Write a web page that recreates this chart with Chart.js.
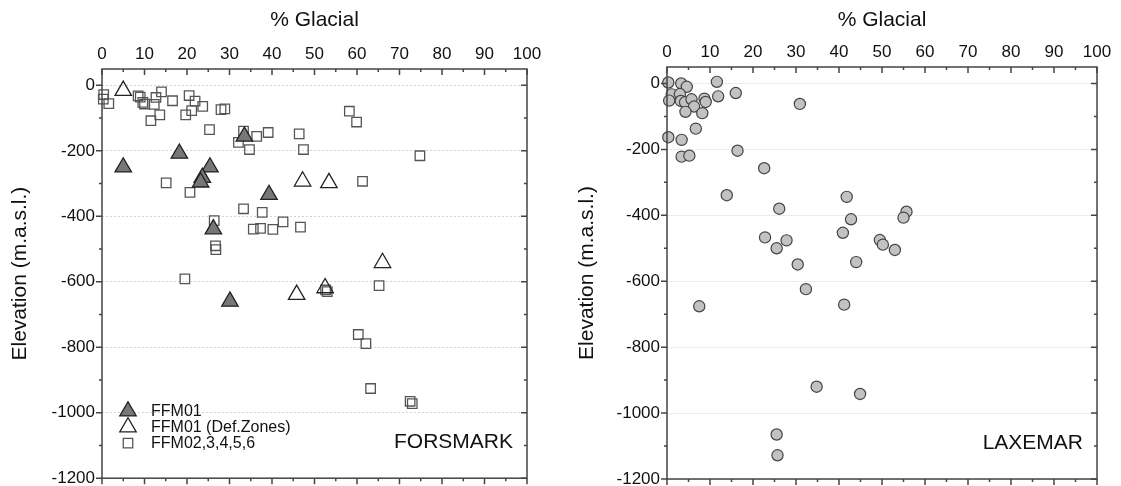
<!DOCTYPE html>
<html>
<head>
<meta charset="utf-8">
<script src="https://cdn.jsdelivr.net/npm/chart.js@4/dist/chart.umd.min.js"></script>
<style>
body { margin: 0; background: #fff; width: 1121px; height: 486px; overflow: hidden; position: relative; }
.box { position: absolute; top: 0; }
#left { left: 0; width: 560px; height: 489px; }
#right { left: 560px; width: 561px; height: 486px; }
</style>
</head>
<body>
<div class="box" id="left"><canvas id="forsmark"></canvas></div>
<div class="box" id="right"><canvas id="laxemar"></canvas></div>
<script>
// Forsmark - FFM01
var ffm01Glacial = [5.0, 18.2, 25.4, 23.6, 23.2, 33.5, 39.3, 26.2, 30.1];
var ffm01Elev    = [-250, -208, -250, -282, -296, -156, -334, -439, -660];
// Forsmark - FFM01 deformation zones
var defGlacial = [5.0, 47.2, 53.4, 45.8, 52.5, 66.0];
var defElev    = [-16, -293, -298, -639, -619, -542];
// Forsmark - FFM02,3,4,5,6
var ffm02Glacial = [0.4, 0.3, 1.6, 8.5, 9.0, 9.6, 10.0, 12.7, 12.3, 14.0, 13.6, 11.5, 16.6, 20.5, 21.9, 21.1, 19.7,
    23.7, 28.0, 28.9, 25.3, 32.1, 33.3, 36.4, 39.1, 34.7, 15.1, 20.7, 33.3, 37.7, 26.4, 35.6, 37.3, 40.2,
    42.6, 58.2, 59.9, 46.4, 47.4, 74.8, 61.3, 46.7, 26.7, 26.8, 19.5, 52.6, 53.0, 65.2, 60.3, 62.1, 63.2,
    72.5, 73.0];
var ffm02Elev = [-28, -42, -56, -32, -36, -52, -57, -37, -58, -20, -90, -108, -47, -31, -48, -77, -90,
    -64, -74, -72, -135, -174, -140, -156, -144, -196, -298, -327, -377, -388, -413, -439, -437, -440,
    -417, -79, -112, -148, -196, -215, -293, -433, -490, -502, -591, -625, -630, -612, -761, -789, -926,
    -965, -972];
// Laxemar
var laxGlacial = [0.3, 3.3, 4.6, 11.6, 1.1, 3.0, 0.5, 3.2, 4.2, 5.7, 8.7, 9.0, 6.3, 4.3, 8.2, 11.9, 16.0,
    30.9, 6.7, 0.3, 3.4, 3.4, 5.2, 16.4, 22.6, 13.9, 26.1, 41.8, 42.8, 40.9, 22.8, 27.8, 25.5, 49.5, 50.2,
    53.0, 44.0, 30.4, 32.3, 41.2, 7.5, 34.8, 44.9, 25.5, 25.7, 55.7, 55.0];
var laxElev = [3, 0, -10, 5, -33, -32, -52, -53, -57, -48, -46, -56, -70, -86, -90, -39, -29,
    -62, -137, -163, -171, -222, -219, -204, -257, -339, -380, -344, -412, -453, -467, -476, -500, -475, -489,
    -505, -542, -549, -624, -671, -676, -920, -942, -1065, -1128, -389, -407];

var xTicks = [0, 10, 20, 30, 40, 50, 60, 70, 80, 90, 100];
var yTicks = [0, -200, -400, -600, -800, -1000, -1200];

function pts(xs, ys) {
    return xs.map(function (x, i) { return {x: x, y: ys[i]}; });
}

var FONT = '"Liberation Sans", Arial, sans-serif';

function drawMarker(ctx, ds, x, y) {
    ctx.fillStyle = ds.backgroundColor;
    ctx.strokeStyle = ds.borderColor;
    ctx.lineWidth = ds.borderWidth;
    if (Chart.helpers && Chart.helpers.drawPoint) {
        Chart.helpers.drawPoint(ctx, {pointStyle: ds.pointStyle, radius: ds.pointRadius, rotation: 0, borderWidth: ds.borderWidth}, x, y);
    }
}

var frame = {
    id: 'frame',
    afterDraw: function (chart, args, opts) {
        var ctx = chart.ctx, a = chart.chartArea;
        var x = chart.scales.x, y = chart.scales.y;
        ctx.save();
        ctx.strokeStyle = '#444';
        ctx.lineWidth = 1.5;
        ctx.strokeRect(a.left, a.top, a.right - a.left, a.bottom - a.top);
        ctx.beginPath();
        for (var i = 0; i < xTicks.length; i++) {
            var v = xTicks[i];
            var px = x.getPixelForValue(v);
            ctx.moveTo(px, a.top); ctx.lineTo(px, a.top + 6);
            ctx.moveTo(px, a.bottom); ctx.lineTo(px, a.bottom + 6);
            if (i < xTicks.length - 1) {
                var mx = x.getPixelForValue((v + xTicks[i + 1]) / 2);
                ctx.moveTo(mx, a.top); ctx.lineTo(mx, a.top + 3);
                ctx.moveTo(mx, a.bottom); ctx.lineTo(mx, a.bottom + 3);
            }
        }
        for (var j = 0; j < yTicks.length; j++) {
            var w = yTicks[j];
            var py = y.getPixelForValue(w);
            ctx.moveTo(a.left - 6, py); ctx.lineTo(a.left, py);
            ctx.moveTo(a.right - 6, py); ctx.lineTo(a.right, py);
            if (j < yTicks.length - 1) {
                var my = y.getPixelForValue((w + yTicks[j + 1]) / 2);
                ctx.moveTo(a.left - 3, my); ctx.lineTo(a.left, my);
                ctx.moveTo(a.right - 3, my); ctx.lineTo(a.right, my);
            }
        }
        ctx.stroke();

        ctx.fillStyle = '#111';
        ctx.font = '21px ' + FONT;
        ctx.textAlign = 'right';
        ctx.textBaseline = 'middle';
        ctx.fillText(opts.site, a.right - 14, a.bottom - 36);

        if (opts.legend) {
            ctx.font = '16px ' + FONT;
            ctx.textAlign = 'left';
            chart.data.datasets.forEach(function (ds, k) {
                var ry = a.bottom - 67 + k * 16;
                drawMarker(ctx, ds, a.left + 26, ry);
                ctx.fillStyle = '#111';
                ctx.fillText(ds.label, a.left + 49, ry);
            });
        }
        ctx.restore();
    }
};

function makeOptions(site, legend, topH, leftW, padRight, titlePad, gridColor, gridDash) {
    return {
        responsive: true,
        maintainAspectRatio: false,
        animation: false,
        layout: {padding: {left: 0, top: 0, right: padRight, bottom: 7}},
        plugins: {
            legend: {display: false},
            tooltip: {enabled: false},
            frame: {site: site, legend: legend}
        },
        scales: {
            x: {
                type: 'linear',
                position: 'top',
                min: 0,
                max: 100,
                afterBuildTicks: function (s) { s.ticks = xTicks.map(function (v) { return {value: v}; }); },
                afterFit: function (s) { s.height = topH; },
                ticks: {color: '#111', font: {family: FONT, size: 17}, padding: 4, maxRotation: 0,
                    callback: function (v) { return String(v); }},
                grid: {display: false, drawTicks: false},
                border: {display: false},
                title: {display: true, text: '% Glacial', color: '#111', font: {family: FONT, size: 21}, padding: {top: 8, bottom: 0}}
            },
            y: {
                type: 'linear',
                min: -1200,
                max: 50,
                afterBuildTicks: function (s) { s.ticks = yTicks.map(function (v) { return {value: v}; }); },
                afterFit: function (s) { s.width = leftW; s.paddingTop = 0; s.paddingBottom = 0; },
                ticks: {color: '#111', font: {family: FONT, size: 17}, padding: 7,
                    callback: function (v) { return String(v); }},
                grid: {color: gridColor, lineWidth: 1, drawTicks: false},
                border: {display: false, dash: gridDash},
                title: {display: true, text: 'Elevation (m.a.s.l.)', color: '#111', font: {family: FONT, size: 21}, padding: {top: titlePad, bottom: 0}}
            }
        }
    };
}

new Chart(document.getElementById('forsmark'), {
    type: 'scatter',
    data: {
        datasets: [{
            label: 'FFM01',
            data: pts(ffm01Glacial, ffm01Elev),
            pointStyle: 'triangle',
            pointRadius: 9.5,
            backgroundColor: '#777777',
            borderColor: '#222222',
            borderWidth: 1.3,
            clip: 10
        }, {
            label: 'FFM01 (Def.Zones)',
            data: pts(defGlacial, defElev),
            pointStyle: 'triangle',
            pointRadius: 9.5,
            backgroundColor: 'rgba(255,255,255,0)',
            borderColor: '#222222',
            borderWidth: 1.3,
            clip: 10
        }, {
            label: 'FFM02,3,4,5,6',
            data: pts(ffm02Glacial, ffm02Elev),
            pointStyle: 'rect',
            pointRadius: 6.7,
            backgroundColor: 'rgba(255,255,255,0)',
            borderColor: '#555555',
            borderWidth: 1.3,
            clip: 10
        }]
    },
    options: makeOptions('FORSMARK', true, 69, 102, 33, 8, '#d4d4d4', [2, 2]),
    plugins: [frame]
});

new Chart(document.getElementById('laxemar'), {
    type: 'scatter',
    data: {
        datasets: [{
            label: 'Laxemar',
            data: pts(laxGlacial, laxElev),
            pointStyle: 'circle',
            pointRadius: 5.6,
            backgroundColor: '#c2c2c2',
            borderColor: '#444444',
            borderWidth: 1.2,
            clip: 10
        }]
    },
    options: makeOptions('LAXEMAR', false, 67, 107, 24, 15, '#ececec', []),
    plugins: [frame]
});
</script>
</body>
</html>
